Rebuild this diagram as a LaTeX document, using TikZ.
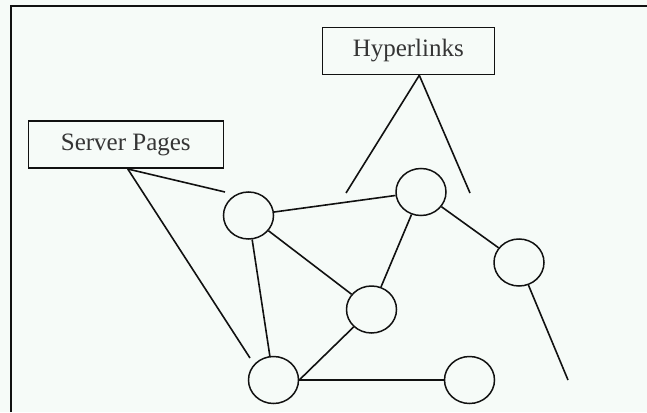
\documentclass[tikz,border=0pt]{standalone}
\usepackage{fontspec}
\setmainfont{Liberation Serif}
\usetikzlibrary{shapes.geometric, positioning}
\definecolor{paper}{HTML}{F6FBF8}
\definecolor{ink}{HTML}{111111}
\tikzstyle{label} = [rectangle, draw = ink, line width = 1.6pt, minimum width = 172pt, minimum height = 47pt, text = ink!85, font = \fontsize{25}{29}\selectfont, inner sep = 0pt]
\tikzstyle{page} = [ellipse, draw = ink, line width = 1.5pt, minimum width = 50pt, minimum height = 47pt, inner sep = 0pt]
\tikzstyle{link} = [line width = 1.6pt, draw = ink]

\begin{document}
\begin{tikzpicture}[x=1pt, y=-1pt]
  \fill [paper] (0,0) rectangle (647,412);
  \useasboundingbox (0,0) rectangle (647,412);
  \draw [line width = 2pt, ink] (11,412) -- (11,6) -- (647,6);
  \node (hyper) [label] at (408.3,51) {Hyperlinks};
  \node (server) [label, minimum width = 195pt] at (125.8,144.7) {Server Pages};
  \node (pa) [page] at (248.5,215.5) {};
  \node (pb) [page] at (421,192) {};
  \node (pc) [page] at (519,262.5) {};
  \node (pd) [page] at (371.5,309.5) {};
  \node (pe) [page] at (273.5,380) {};
  \node (pf) [page] at (469.5,380) {};
  \coordinate (sp1) at (225,192);
  \coordinate (sp2) at (250,358);
  \coordinate (hl1) at (346,193);
  \coordinate (hl2) at (470,193);
  \coordinate (out) at (568,380);
  \draw [link] ([xshift=2pt]server.south) -- (sp1);
  \draw [link] ([xshift=2pt]server.south) -- (sp2);
  \draw [link] ([xshift=11pt]hyper.south) -- (hl1);
  \draw [link] ([xshift=11pt]hyper.south) -- (hl2);
  \draw [link] (pa) -- (pb);
  \draw [link] (pa) -- (pd);
  \draw [link] (pa) -- (pe);
  \draw [link] (pb) -- (pd);
  \draw [link] (pb) -- (pc);
  \draw [link] (pe.east) -- (pd);
  \draw [link] (pe.east) -- (pf.west);
  \draw [link] (pc) -- (out);
\end{tikzpicture}
\end{document}
